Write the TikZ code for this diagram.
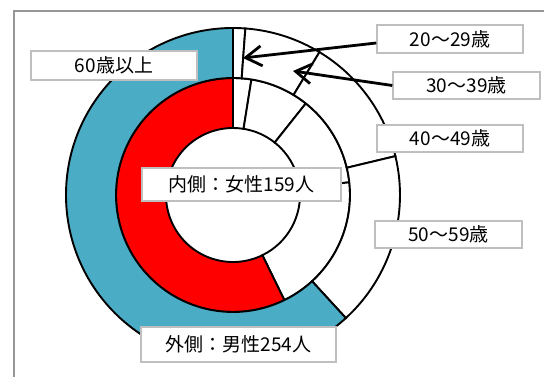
\documentclass[tikz,border=0pt]{standalone}
\usepackage{fontspec}
\setmainfont{Noto Sans CJK JP}
\usetikzlibrary{arrows.meta}
\definecolor{maleblue}{RGB}{75,172,198}
\definecolor{boxgray}{RGB}{191,191,191}
\definecolor{framegray}{RGB}{150,150,150}

\begin{document}
\begin{tikzpicture}[x=1pt,y=1pt,
        slice/.style={draw=black,line width=1.9pt},
        agebox/.style={draw=boxgray,line width=1.4pt,fill=white,inner sep=0pt,font=\fontsize{19}{22}\selectfont},
        pointer/.style={line width=2.8pt,-{Straight Barb[length=16pt,width=20pt]}}]
        \useasboundingbox (0,0) rectangle (544,377);
        \clip (0,0) rectangle (544,377);
        \fill[white] (0,0) rectangle (544,377);
        \draw[framegray,line width=1.5pt] (14,-10) -- (14,366) -- (560,366);

        \begin{scope}[shift={(233,182)}]
        \draw[slice,fill=white] (90:67) arc[start angle=90,end angle=80.94,radius=67] -- (80.94:117) arc[start angle=80.94,end angle=90,radius=117] -- cycle;
        \draw[slice,fill=white] (80.94:67) arc[start angle=80.94,end angle=51.51,radius=67] -- (51.51:117) arc[start angle=51.51,end angle=80.94,radius=117] -- cycle;
        \draw[slice,fill=white] (51.51:67) arc[start angle=51.51,end angle=6.23,radius=67] -- (6.23:117) arc[start angle=6.23,end angle=51.51,radius=117] -- cycle;
        \draw[slice,fill=white] (6.23:67) arc[start angle=6.23,end angle=-63.96,radius=67] -- (-63.96:117) arc[start angle=-63.96,end angle=6.23,radius=117] -- cycle;
        \draw[slice,fill=red] (-63.96:67) arc[start angle=-63.96,end angle=-270,radius=67] -- (-270:117) arc[start angle=-270,end angle=-63.96,radius=117] -- cycle;

        \draw[slice,fill=white] (90:117) arc[start angle=90,end angle=85.75,radius=117] -- (85.75:167) arc[start angle=85.75,end angle=90,radius=167] -- cycle;
        \draw[slice,fill=white] (85.75:117) arc[start angle=85.75,end angle=58.82,radius=117] -- (58.82:167) arc[start angle=58.82,end angle=85.75,radius=167] -- cycle;
        \draw[slice,fill=white] (58.82:117) arc[start angle=58.82,end angle=13.46,radius=117] -- (13.46:167) arc[start angle=13.46,end angle=58.82,radius=167] -- cycle;
        \draw[slice,fill=white] (13.46:117) arc[start angle=13.46,end angle=-47.48,radius=117] -- (-47.48:167) arc[start angle=-47.48,end angle=13.46,radius=167] -- cycle;
        \draw[slice,fill=maleblue] (-47.48:117) arc[start angle=-47.48,end angle=-270,radius=117] -- (-270:167) arc[start angle=-270,end angle=-47.48,radius=167] -- cycle;
        \end{scope}

        \node[agebox,minimum width=166pt,minimum height=29pt] (age60) at (114,311.5) {60歳以上};
        \node[agebox,minimum width=146pt,minimum height=28pt] (age20) at (450,338) {20〜29歳};
        \node[agebox,minimum width=147pt,minimum height=27pt] (age30) at (466.5,291.5) {30〜39歳};
        \node[agebox,minimum width=146pt,minimum height=27pt] (age40) at (450,238.5) {40〜49歳};
        \node[agebox,minimum width=147pt,minimum height=27pt] (age50) at (448.5,142.5) {50〜59歳};
        \node[agebox,minimum width=199pt,minimum height=33pt] (female) at (241.5,192.5) {内側：女性159人};
        \node[agebox,minimum width=195pt,minimum height=35pt] (male) at (238.5,32.5) {外側：男性254人};

        \coordinate (tip20) at (243,319);
        \coordinate (tip30) at (293,306);
        \draw[pointer] ([yshift=-4pt]age20.west) -- (tip20);
        \draw[pointer] (age30.west) -- (tip30);

        \end{tikzpicture}
\end{document}
